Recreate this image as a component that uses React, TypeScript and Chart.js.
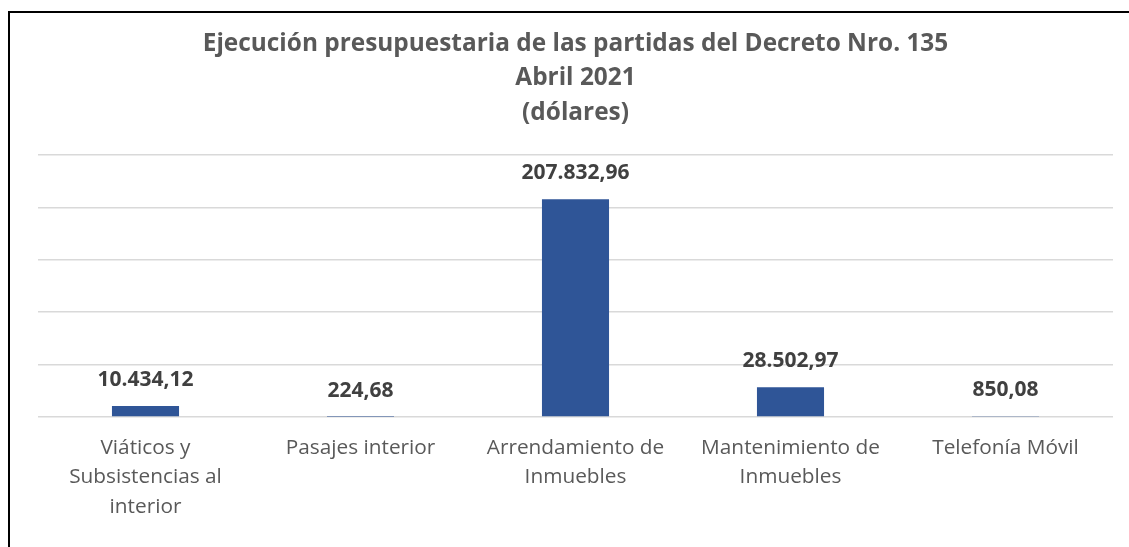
import React, { useEffect, useRef } from "react";
import { Chart, registerables } from "chart.js";

Chart.register(...registerables);

const categories: string[][] = [
  ["Viáticos y", "Subsistencias al", "interior"],
  ["Pasajes interior"],
  ["Arrendamiento de", "Inmuebles"],
  ["Mantenimiento de", "Inmuebles"],
  ["Telefonía Móvil"],
];
const values: number[] = [10434.12, 224.68, 207832.96, 28502.97, 850.08];
const valueLabels: string[] = ["10.434,12", "224,68", "207.832,96", "28.502,97", "850,08"];
const titleLines: string[] = [
  "Ejecución presupuestaria de las partidas del Decreto Nro. 135",
  "Abril 2021",
  "(dólares)",
];

const FONT = "'Open Sans', Lato, sans-serif";

export default function App() {
  const ref = useRef<HTMLCanvasElement | null>(null);
  useEffect(() => {
    if (!ref.current) return;
    const labelPlugin = {
      id: "valLabels",
      afterDatasetsDraw(chart: any) {
        const ctx = chart.ctx;
        const meta = chart.getDatasetMeta(0);
        ctx.save();
        ctx.font = `bold 21px ${FONT}`;
        ctx.fillStyle = "#404040";
        ctx.textAlign = "center";
        ctx.textBaseline = "middle";
        meta.data.forEach((el: any, i: number) => {
          ctx.fillText(valueLabels[i], el.x, el.y - 26);
        });
        ctx.restore();
      },
    };
    const chart = new Chart(ref.current, {
      type: "bar",
      data: {
        labels: categories,
        datasets: [
          {
            data: values,
            backgroundColor: "#2F5597",
            borderWidth: 0,
            barPercentage: 0.312,
            categoryPercentage: 1,
          },
        ],
      },
      options: {
        animation: false,
        responsive: false,
        devicePixelRatio: 1,
        layout: { padding: { left: 28, right: 16, top: 0, bottom: 0 } },
        plugins: {
          legend: { display: false },
          tooltip: { enabled: false },
          title: {
            display: true,
            text: titleLines,
            color: "#595959",
            font: { family: FONT, size: 24.4, weight: "bold", lineHeight: "34.5px" },
            padding: { top: 13.5, bottom: 25 },
          },
        },
        scales: {
          x: {
            grid: { display: false, drawTicks: false },
            border: { display: false },
            ticks: {
              color: "#595959",
              font: { family: FONT, size: 20.8, lineHeight: "29.5px" },
              padding: 16,
              maxRotation: 0,
              autoSkip: false,
            },
            afterFit(scale: any) {
              scale.height = 130;
            },
          },
          y: {
            min: 0,
            max: 250000,
            ticks: { display: false, stepSize: 50000 },
            grid: { color: "#d9d9d9", lineWidth: 1.5, drawTicks: false },
            border: { display: false },
            afterFit(scale: any) {
              scale.width = 0;
            },
          },
        },
      },
      plugins: [labelPlugin],
    });
    return () => chart.destroy();
  }, []);

  return (
    <div
      style={{
        position: "fixed",
        left: 0,
        top: 0,
        width: 1129,
        height: 547,
        overflow: "hidden",
        background: "#fff",
      }}
    >
      <div
        style={{
          position: "absolute",
          left: 8,
          top: 11,
          width: 1300,
          height: 700,
          borderLeft: "2px solid #000",
          borderTop: "2px solid #000",
        }}
      />
      <canvas
        ref={ref}
        width={1119}
        height={534}
        style={{ position: "absolute", left: 10, top: 13, width: 1119, height: 534 }}
      />
    </div>
  );
}
